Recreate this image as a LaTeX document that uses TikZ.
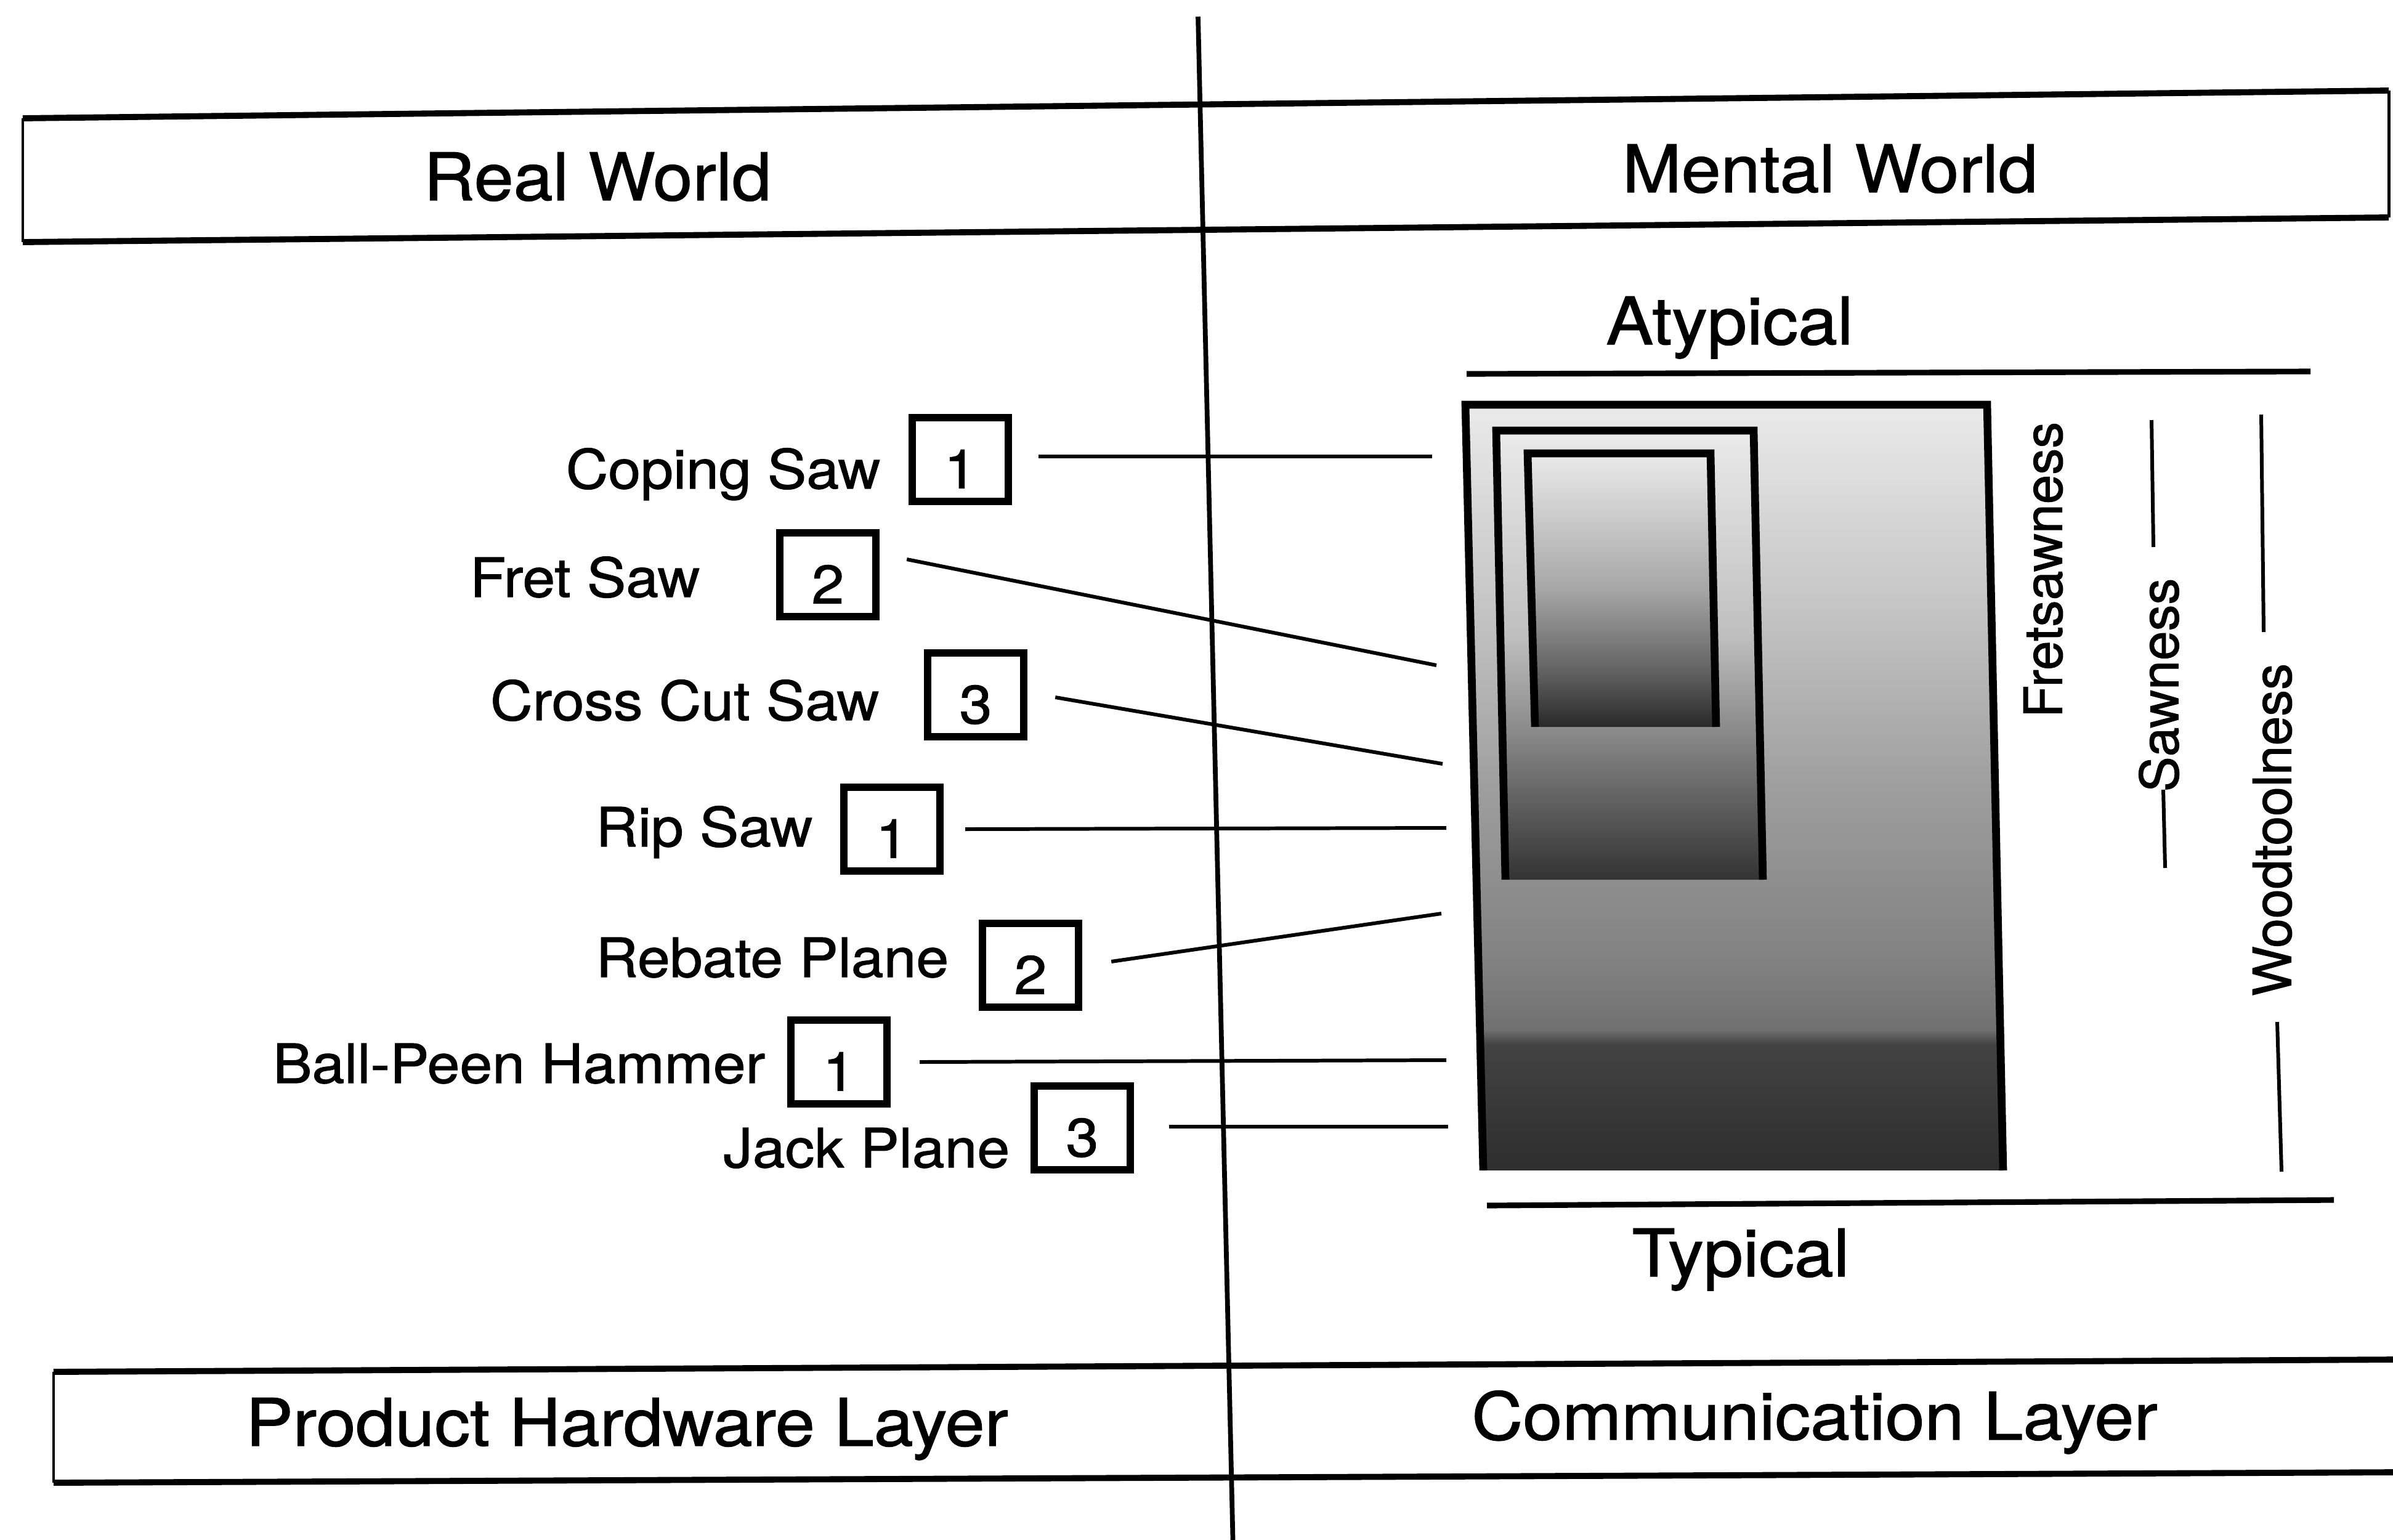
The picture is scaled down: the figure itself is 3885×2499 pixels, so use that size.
\documentclass[tikz,border=0pt]{standalone}
\usepackage{fontspec}
\setmainfont{TeX Gyre Heros}[FakeStretch=1.08,FakeBold=1.2]
\newfontfamily\vertfont{TeX Gyre Heros}[FakeBold=1.2]
\usetikzlibrary{calc}

\colorlet{oA}{black!82}
\colorlet{oB}{black!74}
\colorlet{oC}{black!56}
\colorlet{oD}{black!50}
\colorlet{oE}{black!38}
\colorlet{oF}{black!22}
\colorlet{oG}{black!8}
\pgfdeclareverticalshading{outershade}{100bp}{color(0bp)=(oA); color(25bp)=(oA); color(33.2bp)=(oB); color(34.2bp)=(oC); color(38bp)=(oD); color(50bp)=(oE); color(62.5bp)=(oF); color(75bp)=(oG); color(100bp)=(oG)}
\colorlet{mA}{black!80}
\colorlet{mB}{black!62}
\colorlet{mC}{black!45}
\colorlet{mD}{black!25}
\colorlet{mE}{black!8}
\pgfdeclareverticalshading{midshade}{100bp}{color(0bp)=(mA); color(25bp)=(mA); color(33.8bp)=(mB); color(42bp)=(mC); color(52.3bp)=(mD); color(75bp)=(mE); color(100bp)=(mE)}
\colorlet{iA}{black!84}
\colorlet{iB}{black!62}
\colorlet{iC}{black!35}
\colorlet{iD}{black!8}
\pgfdeclareverticalshading{innershade}{100bp}{color(0bp)=(iA); color(25bp)=(iA); color(35bp)=(iB); color(50bp)=(iC); color(75bp)=(iD); color(100bp)=(iD)}

\begin{document}
\begin{tikzpicture}[x=0.01cm,y=-0.01cm,
  heading/.style={font=\fontsize{30.3pt}{36pt}\selectfont, inner sep=0pt, anchor=base},
  item/.style={font=\fontsize{25pt}{30pt}\selectfont, inner sep=0pt, anchor=base east},
  numbox/.style={draw, line width=3.5pt, minimum width=1.56cm, minimum height=1.36cm, inner sep=0pt, text height=0.93cm, text depth=0pt, font=\fontsize{25pt}{30pt}\selectfont},
  vlabel/.style={font=\vertfont\fontsize{24.4pt}{29pt}\selectfont, rotate=90, inner sep=0pt},
  conn/.style={line width=1.7pt},
  band/.style={line width=2.8pt},
  bandside/.style={line width=1.4pt},
  frame/.style={line width=3.6pt, line join=miter},
  rulel/.style={line width=2.6pt},
  bracket/.style={line width=1.7pt}]

\useasboundingbox (0,0) rectangle (3885,2499);
\fill[white] (0,0) rectangle (3885,2499);

% central divider
\coordinate (dtop) at (1945,27);
\coordinate (dbot) at (2002,2520);
\draw[line width=2.2pt] (dtop) -- (dbot);

% top banner
\draw[band] (37,192) -- (3878,147);
\draw[band] (37,393) -- (3878,353);
\draw[bandside] (37,192) -- (37,393);
\draw[bandside] (3878,147) -- (3878,353);
\node[heading] (real) at (970,325) {Real World};
\node[heading] (mental) at (2971,312) {Mental World};

% bottom banner
\draw[band] (3900,2207) -- (87,2227);
\draw[bandside] (87,2227) -- (87,2407);
\draw[band] (87,2407) -- (3900,2390);
\node[heading] (hw) at (1018,2347) {Product Hardware Layer};
\node[heading] (comm) at (2946,2337) {Communication Layer};

% Atypical / Typical
\node[heading] (atyp) at (2808,559) {Atypical};
\draw[rulel] (2381,607) -- (3751,603);
\draw[rulel] (2414,1957) -- (3789,1948);
\node[heading] (typ) at (2826,2072) {Typical};

% shaded rectangles
\shade[shading=outershade] (2379,657) -- (3226,657) -- (3252,1900) -- (2408,1900) -- cycle;
\draw[frame] (2408,1900) -- (2379,657) -- (3226,657) -- (3252,1900);
\shade[shading=midshade] (2429,699) -- (2847,699) -- (2862,1428) -- (2444,1428) -- cycle;
\draw[frame] (2444,1428) -- (2429,699) -- (2847,699) -- (2862,1428);
\shade[shading=innershade] (2480,736) -- (2777,736) -- (2786,1180) -- (2492,1180) -- cycle;
\draw[frame] (2492,1180) -- (2480,736) -- (2777,736) -- (2786,1180);

% vertical labels
\node[vlabel] (fret) at (3317,925) {Fretsawness};
\node[vlabel] (saw) at (3505,1112) {Sawness};
\node[vlabel] (wood) at (3689,1347) {Woodtoolness};
\draw[bracket] (3493,682) -- (3496,888);
\draw[bracket] (3512,1282) -- (3515,1409);
\draw[bracket] (3671,673) -- (3675,1026);
\draw[bracket] (3697,1659) -- (3704,1902);

% item labels
\node[item] (l1) at (1430,793) {Coping Saw};
\node[item] (l2) at (1137,969) {Fret Saw};
\node[item] (l3) at (1428,1169) {Cross Cut Saw};
\node[item] (l4) at (1320,1374) {Rip Saw};
\node[item] (l5) at (1541,1586) {Rebate Plane};
\node[item] (l6) at (1243,1758) {Ball-Peen Hammer};
\node[item] (l7) at (1640,1895) {Jack Plane};

% number boxes
\node[numbox] (b1) at (1559,746) {1};
\node[numbox] (b2) at (1344,933) {2};
\node[numbox] (b3) at (1584,1128) {3};
\node[numbox] (b4) at (1448,1346) {1};
\node[numbox] (b5) at (1673,1567) {2};
\node[numbox] (b6) at (1362,1724) {1};
\node[numbox] (b7) at (1757,1831) {3};

% connector ends at the gradient
\coordinate (e1) at (2325,741);
\coordinate (e2) at (2332,1080);
\coordinate (e3) at (2342,1240);
\coordinate (e4) at (2348,1344);
\coordinate (e5) at (2340,1483);
\coordinate (e6) at (2348,1721);
\coordinate (e7) at (2351,1829);

\draw[conn] ($(b1.east)+(43,-5)$) -- (e1);
\draw[conn] ($(b2.east)+(44,-25)$) -- (e2);
\draw[conn] ($(b3.east)+(45,4)$) -- (e3);
\draw[conn] ($(b4.east)+(35,0)$) -- (e4);
\draw[conn] ($(b5.east)+(47,-6)$) -- (e5);
\draw[conn] ($(b6.east)+(47,0)$) -- (e6);
\draw[conn] ($(b7.east)+(57,-2)$) -- (e7);
\end{tikzpicture}
\end{document}
